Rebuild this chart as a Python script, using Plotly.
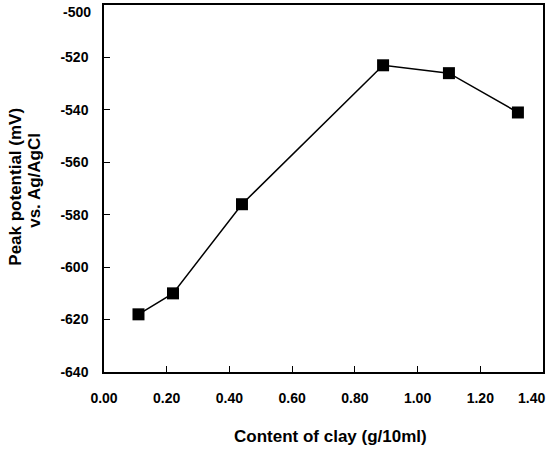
import plotly.graph_objects as go

clay_content = [0.11, 0.22, 0.44, 0.89, 1.10, 1.32]
peak_potential = [-618, -610, -576, -523, -526, -541]

x_tick_vals = [0.0, 0.2, 0.4, 0.6, 0.8, 1.0, 1.2, 1.4]
x_tick_text = ["0.00", "0.20", "0.40", "0.60", "0.80", "1.00", "1.20", "1.40"]
y_tick_vals = [-640, -620, -600, -580, -560, -540, -520, -500]
y_tick_text = [str(v) for v in y_tick_vals]

x_title = "Content of clay (g/10ml)"
y_title_line1 = "Peak potential (mV)"
y_title_line2 = "vs. Ag/AgCl"

font_family = "Liberation Sans, Arial, sans-serif"
tick_font = dict(size=14, family=font_family, weight="bold", color="black")

fig = go.Figure()
fig.add_trace(go.Scatter(
    x=clay_content, y=peak_potential, mode="lines+markers",
    line=dict(color="black", width=1.5),
    marker=dict(symbol="square", size=12, color="black"),
    showlegend=False, cliponaxis=False,
))

axis_common = dict(
    ticks="inside", ticklen=6, tickwidth=1.2, tickcolor="black",
    showline=True, linecolor="black", linewidth=1.5, mirror=True,
    showgrid=False, zeroline=False, automargin=False,
    ticklabeloverflow="allow", tickfont=tick_font,
)

# edge labels (last x label, top y label) are drawn as annotations so they stay inside the page
x_text_axis = x_tick_text[:-1] + [""]
y_text_axis = y_tick_text[:-1] + [""]

fig.update_layout(
    width=548, height=449,
    margin=dict(l=104, r=5, t=5, b=77),
    paper_bgcolor="white", plot_bgcolor="white",
    font=dict(family=font_family, color="black"),
    xaxis=dict(range=[0, 1.4], tickvals=x_tick_vals, ticktext=x_text_axis,
               ticklabelstandoff=12, **axis_common),
    yaxis=dict(range=[-640, -500], tickvals=y_tick_vals, ticktext=y_text_axis,
               ticklabelstandoff=11, **axis_common),
    annotations=[
        dict(text=x_tick_text[-1], xref="x", yref="y", x=x_tick_vals[-1], y=y_tick_vals[0],
             xanchor="right", yanchor="middle", xshift=4, yshift=-26,
             showarrow=False, font=tick_font),
        dict(text=y_tick_text[-1], xref="x", yref="y", x=x_tick_vals[0], y=y_tick_vals[-1],
             xanchor="right", yanchor="middle", xshift=-11, yshift=-7,
             showarrow=False, font=tick_font),
        dict(text="<b>" + x_title + "</b>", xref="paper", yref="paper",
             x=0.516, y=-0.177, showarrow=False, xanchor="center", yanchor="middle",
             font=dict(size=17, family=font_family)),
        dict(text="<b>" + y_title_line1 + "</b>", xref="paper", yref="paper",
             x=-0.2035, y=0.504, showarrow=False, textangle=-90,
             xanchor="center", yanchor="middle",
             font=dict(size=17, family=font_family)),
        dict(text="<b>" + y_title_line2 + "</b>", xref="paper", yref="paper",
             x=-0.160, y=0.523, showarrow=False, textangle=-90,
             xanchor="center", yanchor="middle",
             font=dict(size=17, family=font_family)),
    ],
)

fig.write_html("out.html", config={"displayModeBar": False},
               post_script="document.body.style.margin='0';")
